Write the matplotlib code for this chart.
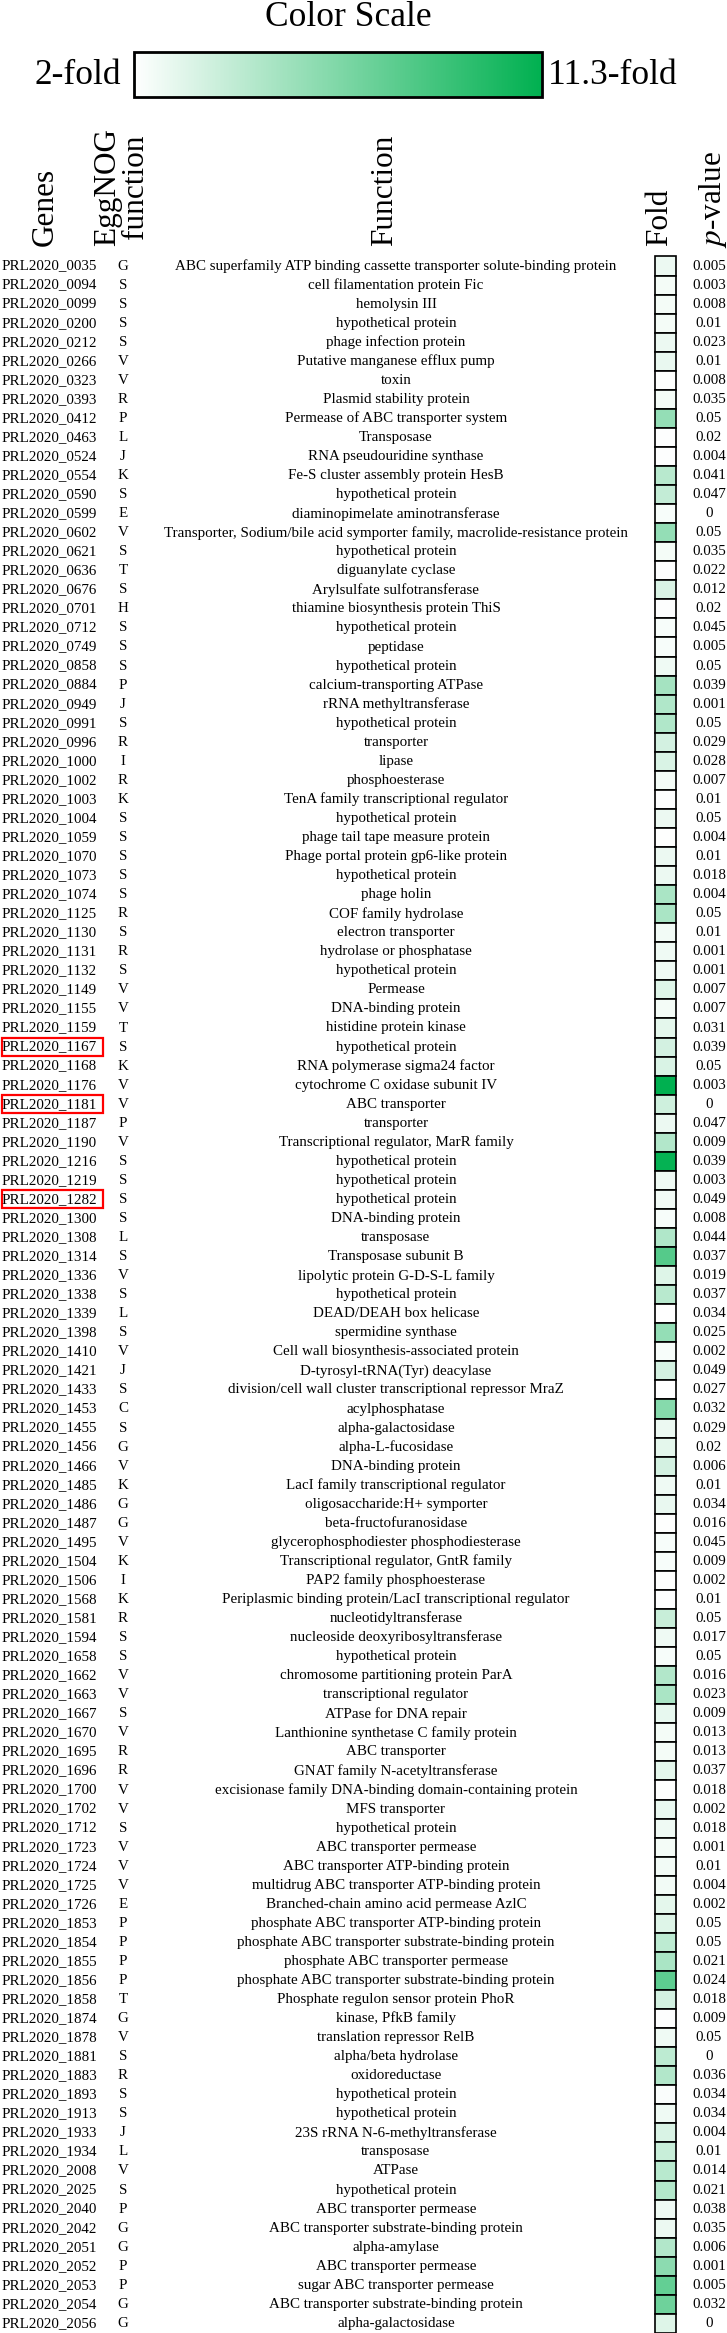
import matplotlib
matplotlib.use("Agg")
import matplotlib.pyplot as plt
import numpy as np
from matplotlib.colors import LinearSegmentedColormap, Normalize
from matplotlib.cm import ScalarMappable
from matplotlib.patches import Rectangle

plt.rcParams['font.family'] = ['Liberation Serif', 'DejaVu Serif']
plt.rcParams['mathtext.fontset'] = 'stix'

genes = ["PRL2020_0035", "PRL2020_0094", "PRL2020_0099", "PRL2020_0200", "PRL2020_0212",
         "PRL2020_0266", "PRL2020_0323", "PRL2020_0393", "PRL2020_0412", "PRL2020_0463",
         "PRL2020_0524", "PRL2020_0554", "PRL2020_0590", "PRL2020_0599", "PRL2020_0602",
         "PRL2020_0621", "PRL2020_0636", "PRL2020_0676", "PRL2020_0701", "PRL2020_0712",
         "PRL2020_0749", "PRL2020_0858", "PRL2020_0884", "PRL2020_0949", "PRL2020_0991",
         "PRL2020_0996", "PRL2020_1000", "PRL2020_1002", "PRL2020_1003", "PRL2020_1004",
         "PRL2020_1059", "PRL2020_1070", "PRL2020_1073", "PRL2020_1074", "PRL2020_1125",
         "PRL2020_1130", "PRL2020_1131", "PRL2020_1132", "PRL2020_1149", "PRL2020_1155",
         "PRL2020_1159", "PRL2020_1167", "PRL2020_1168", "PRL2020_1176", "PRL2020_1181",
         "PRL2020_1187", "PRL2020_1190", "PRL2020_1216", "PRL2020_1219", "PRL2020_1282",
         "PRL2020_1300", "PRL2020_1308", "PRL2020_1314", "PRL2020_1336", "PRL2020_1338",
         "PRL2020_1339", "PRL2020_1398", "PRL2020_1410", "PRL2020_1421", "PRL2020_1433",
         "PRL2020_1453", "PRL2020_1455", "PRL2020_1456", "PRL2020_1466", "PRL2020_1485",
         "PRL2020_1486", "PRL2020_1487", "PRL2020_1495", "PRL2020_1504", "PRL2020_1506",
         "PRL2020_1568", "PRL2020_1581", "PRL2020_1594", "PRL2020_1658", "PRL2020_1662",
         "PRL2020_1663", "PRL2020_1667", "PRL2020_1670", "PRL2020_1695", "PRL2020_1696",
         "PRL2020_1700", "PRL2020_1702", "PRL2020_1712", "PRL2020_1723", "PRL2020_1724",
         "PRL2020_1725", "PRL2020_1726", "PRL2020_1853", "PRL2020_1854", "PRL2020_1855",
         "PRL2020_1856", "PRL2020_1858", "PRL2020_1874", "PRL2020_1878", "PRL2020_1881",
         "PRL2020_1883", "PRL2020_1893", "PRL2020_1913", "PRL2020_1933", "PRL2020_1934",
         "PRL2020_2008", "PRL2020_2025", "PRL2020_2040", "PRL2020_2042", "PRL2020_2051",
         "PRL2020_2052", "PRL2020_2053", "PRL2020_2054", "PRL2020_2056"]

eggnog = ["G", "S", "S", "S", "S", "V", "V", "R", "P", "L",
          "J", "K", "S", "E", "V", "S", "T", "S", "H", "S",
          "S", "S", "P", "J", "S", "R", "I", "R", "K", "S",
          "S", "S", "S", "S", "R", "S", "R", "S", "V", "V",
          "T", "S", "K", "V", "V", "P", "V", "S", "S", "S",
          "S", "L", "S", "V", "S", "L", "S", "V", "J", "S",
          "C", "S", "G", "V", "K", "G", "G", "V", "K", "I",
          "K", "R", "S", "S", "V", "V", "S", "V", "R", "R",
          "V", "V", "S", "V", "V", "V", "E", "P", "P", "P",
          "P", "T", "G", "V", "S", "R", "S", "S", "J", "L",
          "V", "S", "P", "G", "G", "P", "P", "G", "G"]

functions = [
    "ABC superfamily ATP binding cassette transporter solute-binding protein",
    "cell filamentation protein Fic", "hemolysin III", "hypothetical protein",
    "phage infection protein", "Putative manganese efflux pump", "toxin",
    "Plasmid stability protein", "Permease of ABC transporter system", "Transposase",
    "RNA pseudouridine synthase", "Fe-S cluster assembly protein HesB",
    "hypothetical protein", "diaminopimelate aminotransferase",
    "Transporter, Sodium/bile acid symporter family, macrolide-resistance protein",
    "hypothetical protein", "diguanylate cyclase", "Arylsulfate sulfotransferase",
    "thiamine biosynthesis protein ThiS", "hypothetical protein", "peptidase",
    "hypothetical protein", "calcium-transporting ATPase", "rRNA methyltransferase",
    "hypothetical protein", "transporter", "lipase", "phosphoesterase",
    "TenA family transcriptional regulator", "hypothetical protein",
    "phage tail tape measure protein", "Phage portal protein gp6-like protein",
    "hypothetical protein", "phage holin", "COF family hydrolase", "electron transporter",
    "hydrolase or phosphatase", "hypothetical protein", "Permease", "DNA-binding protein",
    "histidine protein kinase", "hypothetical protein", "RNA polymerase sigma24 factor",
    "cytochrome C oxidase subunit IV", "ABC transporter", "transporter",
    "Transcriptional regulator, MarR family", "hypothetical protein",
    "hypothetical protein", "hypothetical protein", "DNA-binding protein", "transposase",
    "Transposase subunit B", "lipolytic protein G-D-S-L family", "hypothetical protein",
    "DEAD/DEAH box helicase", "spermidine synthase",
    "Cell wall biosynthesis-associated protein", "D-tyrosyl-tRNA(Tyr) deacylase",
    "division/cell wall cluster transcriptional repressor MraZ", "acylphosphatase",
    "alpha-galactosidase", "alpha-L-fucosidase", "DNA-binding protein",
    "LacI family transcriptional regulator", "oligosaccharide:H+ symporter",
    "beta-fructofuranosidase", "glycerophosphodiester phosphodiesterase",
    "Transcriptional regulator, GntR family", "PAP2 family phosphoesterase",
    "Periplasmic binding protein/LacI transcriptional regulator", "nucleotidyltransferase",
    "nucleoside deoxyribosyltransferase", "hypothetical protein",
    "chromosome partitioning protein ParA", "transcriptional regulator",
    "ATPase for DNA repair", "Lanthionine synthetase C family protein", "ABC transporter",
    "GNAT family N-acetyltransferase",
    "excisionase family DNA-binding domain-containing protein", "MFS transporter",
    "hypothetical protein", "ABC transporter permease", "ABC transporter ATP-binding protein",
    "multidrug ABC transporter ATP-binding protein",
    "Branched-chain amino acid permease AzlC",
    "phosphate ABC transporter ATP-binding protein",
    "phosphate ABC transporter substrate-binding protein",
    "phosphate ABC transporter permease",
    "phosphate ABC transporter substrate-binding protein",
    "Phosphate regulon sensor protein PhoR", "kinase, PfkB family",
    "translation repressor RelB", "alpha/beta hydrolase", "oxidoreductase",
    "hypothetical protein", "hypothetical protein", "23S rRNA N-6-methyltransferase",
    "transposase", "ATPase", "hypothetical protein", "ABC transporter permease",
    "ABC transporter substrate-binding protein", "alpha-amylase", "ABC transporter permease",
    "sugar ABC transporter permease", "ABC transporter substrate-binding protein",
    "alpha-galactosidase"]

# fold change estimated from the cell shading (2 = white, 11.3 = full green)
fold = [2.7, 2.4, 2.4, 2.4, 2.7, 2.8, 2.05, 2.4, 5.9, 2.1,
        2.1, 4.6, 4.2, 2.3, 5.9, 2.4, 2.1, 3.4, 2.1, 2.3,
        2.3, 2.6, 5.3, 4.9, 4.9, 3.6, 3.4, 2.4, 2.1, 2.7,
        2.05, 2.7, 2.7, 5.1, 5.1, 2.5, 2.6, 2.6, 3.2, 2.4,
        3.0, 3.6, 3.4, 11.3, 3.8, 2.7, 4.8, 11.1, 2.6, 2.5,
        2.3, 4.9, 8.2, 3.2, 4.6, 2.0, 5.9, 2.3, 3.6, 2.0,
        6.4, 2.7, 3.0, 3.6, 2.6, 2.8, 2.05, 2.3, 2.3, 2.05,
        2.1, 4.0, 2.6, 2.3, 4.8, 5.1, 2.9, 2.4, 2.4, 3.0,
        2.05, 2.8, 2.6, 2.4, 2.5, 2.5, 3.0, 3.2, 4.4, 5.1,
        7.9, 3.6, 2.1, 2.6, 4.4, 4.8, 2.2, 2.6, 3.4, 4.0,
        4.6, 4.8, 2.6, 2.7, 4.8, 6.2, 7.7, 7.3, 3.2]

pvals = ["0.005", "0.003", "0.008", "0.01", "0.023", "0.01", "0.008", "0.035", "0.05", "0.02",
         "0.004", "0.041", "0.047", "0", "0.05", "0.035", "0.022", "0.012", "0.02", "0.045",
         "0.005", "0.05", "0.039", "0.001", "0.05", "0.029", "0.028", "0.007", "0.01", "0.05",
         "0.004", "0.01", "0.018", "0.004", "0.05", "0.01", "0.001", "0.001", "0.007", "0.007",
         "0.031", "0.039", "0.05", "0.003", "0", "0.047", "0.009", "0.039", "0.003", "0.049",
         "0.008", "0.044", "0.037", "0.019", "0.037", "0.034", "0.025", "0.002", "0.049", "0.027",
         "0.032", "0.029", "0.02", "0.006", "0.01", "0.034", "0.016", "0.045", "0.009", "0.002",
         "0.01", "0.05", "0.017", "0.05", "0.016", "0.023", "0.009", "0.013", "0.013", "0.037",
         "0.018", "0.002", "0.018", "0.001", "0.01", "0.004", "0.002", "0.05", "0.05", "0.021",
         "0.024", "0.018", "0.009", "0.05", "0", "0.036", "0.034", "0.034", "0.004", "0.01",
         "0.014", "0.021", "0.038", "0.035", "0.006", "0.001", "0.005", "0.032", "0"]

highlighted = ["PRL2020_1167", "PRL2020_1181", "PRL2020_1282"]

fold_min, fold_max = 2, 11.3

cmap = LinearSegmentedColormap.from_list("fold", ["#ffffff", "#00b050"])
norm = Normalize(fold_min, fold_max)

W, H = 727, 2333
fig = plt.figure(figsize=(W / 100, H / 100), dpi=100)
ax = fig.add_axes([0, 0, 1, 1])
ax.set_xlim(0, W)
ax.set_ylim(H, 0)
ax.axis('off')

n = len(genes)
y0, pitch = 266, 19.05
ys = y0 + pitch * np.arange(n)
fs = 10.8

for i in range(n):
    ax.text(2, ys[i], genes[i], ha='left', va='center', fontsize=fs)
    ax.text(123, ys[i], eggnog[i], ha='center', va='center', fontsize=fs)
    ax.text(396, ys[i], functions[i], ha='center', va='center', fontsize=fs)
    ax.text(709, ys[i], pvals[i], ha='center', va='center', fontsize=fs)
    if genes[i] in highlighted:
        ax.add_patch(Rectangle((1.5, ys[i] - pitch / 2 + 0.5), 101, pitch - 1,
                               fill=False, edgecolor='red', linewidth=1.6))

# fold cells
ax.barh(ys, 21, left=654.5, height=pitch, color=cmap(norm(fold)),
        edgecolor='black', linewidth=1.2)

# column headers
hfs = 22.5
ax.text(45, 246, 'Genes', rotation=90, ha='center', va='bottom', fontsize=hfs)
ax.text(122, 246, 'EggNOG\nfunction', rotation=90, ha='center', va='bottom',
        fontsize=hfs, multialignment='center', linespacing=0.95)
ax.text(385, 246, 'Function', rotation=90, ha='center', va='bottom', fontsize=hfs)
ax.text(660, 246, 'Fold', rotation=90, ha='center', va='bottom', fontsize=hfs)
ax.text(713, 248, '$p$-value', rotation=90, ha='center', va='bottom', fontsize=hfs)

# colour scale
ax.text(348, 17, 'Color Scale', ha='center', va='center', fontsize=25.5)
ax.text(121, 75, '2-fold', ha='right', va='center', fontsize=25.5)
ax.text(548, 75, '11.3-fold', ha='left', va='center', fontsize=25.5)

cax = fig.add_axes([133.5 / W, 1 - 97 / H, (542 - 133.5) / W, 45 / H])
cb = fig.colorbar(ScalarMappable(norm=norm, cmap=cmap), cax=cax, orientation='horizontal')
cb.set_ticks([])
cb.outline.set_linewidth(2)

fig.savefig('out.png', dpi=100)
